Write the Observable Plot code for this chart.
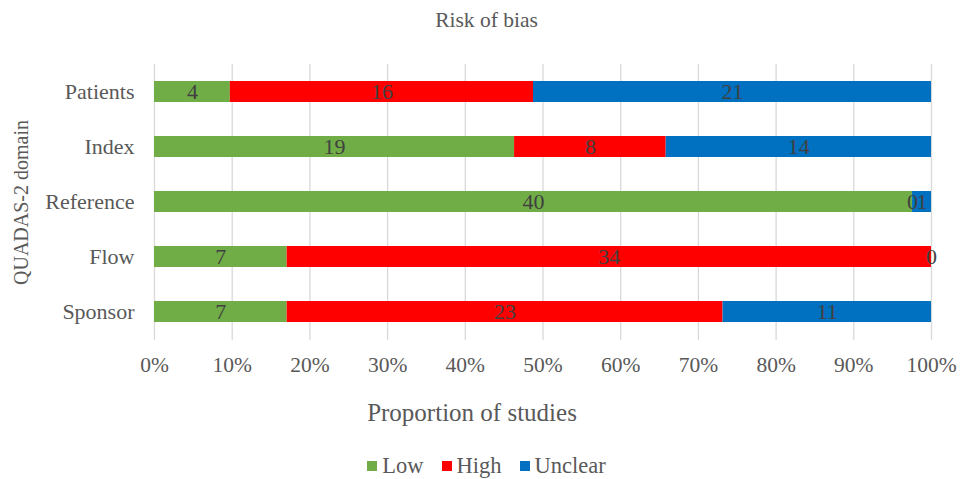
<!DOCTYPE html>
<html>
<head>
<meta charset="utf-8">
<script src="https://cdn.jsdelivr.net/npm/d3@7"></script>
<script src="https://cdn.jsdelivr.net/npm/@observablehq/plot@0.6"></script>
<style>
  body { margin: 0; background: #fff; }
  #wrap { position: relative; width: 973px; height: 479px; font-family: 'Liberation Serif', 'Times New Roman', 'DejaVu Serif', serif; color: #595959; }
  #title { position: absolute; left: 0; top: 0; width: 973px; height: 40px; line-height: 40px; text-align: center; font-size: 21.5px; }
  #chart { position: absolute; left: 0; top: 40px; }
  #xlabel { position: absolute; left: 0; top: 396px; width: 944px; text-align: center; font-size: 25px; line-height: 34px; }
  #legend { position: absolute; left: 0; top: 450px; width: 973px; height: 32px; display: flex; justify-content: center; align-items: center; font-size: 22.5px; gap: 18px; }
  .item { display: flex; align-items: center; gap: 5px; }
  .sw { width: 10px; height: 10px; display: inline-block; }
</style>
</head>
<body>
<div id="wrap">
  <div id="title"></div>
  <div id="chart"></div>
  <div id="xlabel"></div>
  <div id="legend"></div>
</div>
<script>
const titleText = "Risk of bias";
const xTitle = "Proportion of studies";
const yTitle = "QUADAS-2 domain";
const domains = ["Patients", "Index", "Reference", "Flow", "Sponsor"];
const categories = ["Low", "High", "Unclear"];
const low = [4, 19, 40, 7, 7];
const high = [16, 8, 0, 34, 23];
const unclear = [21, 14, 1, 0, 11];
const colors = ["#70AD47", "#FF0000", "#0070C0"];
const xTicks = [0, 0.1, 0.2, 0.3, 0.4, 0.5, 0.6, 0.7, 0.8, 0.9, 1.0];

const series = [low, high, unclear];
const rows = [];
categories.forEach((c, ci) => {
  domains.forEach((d, di) => rows.push({domain: d, category: c, value: series[ci][di]}));
});

document.getElementById("title").textContent = titleText;
document.getElementById("xlabel").textContent = xTitle;
const legend = document.getElementById("legend");
categories.forEach((c, i) => {
  const it = document.createElement("span");
  it.className = "item";
  const sw = document.createElement("span");
  sw.className = "sw";
  sw.style.background = colors[i];
  it.appendChild(sw);
  it.appendChild(document.createTextNode(c));
  legend.appendChild(it);
});

const chart = Plot.plot({
  width: 973,
  height: 345,
  marginTop: 24,
  marginBottom: 45,
  marginLeft: 154,
  marginRight: 42,
  style: {fontFamily: "'Liberation Serif', 'Times New Roman', 'DejaVu Serif', serif", fontSize: "22px", color: "#595959", background: "#fff"},
  x: {domain: [0, 1]},
  y: {domain: domains, paddingInner: 0.61, paddingOuter: 0.295},
  color: {domain: categories, range: colors},
  marks: [
    Plot.gridX(xTicks, {stroke: "#d9d9d9", strokeOpacity: 1, strokeWidth: 1.3}),
    Plot.barX(rows, Plot.stackX({offset: "normalize", order: null, x: "value", y: "domain", fill: "category"})),
    Plot.text(rows, Plot.stackX({offset: "normalize", order: null, x: "value", y: "domain", z: "category", text: d => String(d.value), fill: "#404040", fontSize: 22})),
    Plot.axisX({ticks: xTicks, tickFormat: d3.format(".0%"), tickSize: 0, tickPadding: 16, label: null, fill: "#595959", fontSize: 21.5}),
    Plot.axisY({tickSize: 0, tickPadding: 20, label: null, fill: "#595959"}),
    Plot.axisY({tickSize: 0, ticks: [], label: yTitle, labelAnchor: "center", labelOffset: 141, fill: "#595959", fontSize: 20})
  ]
});
document.getElementById("chart").appendChild(chart);
</script>
</body>
</html>
